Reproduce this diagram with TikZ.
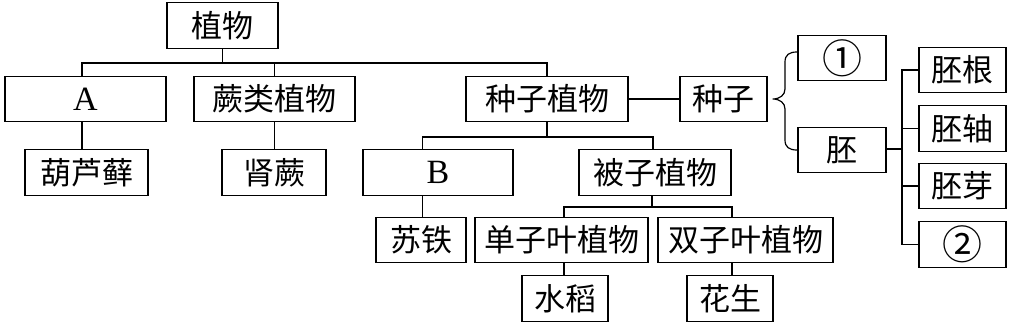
\documentclass[tikz,border=0pt]{standalone}
\usepackage{fontspec}
\newfontfamily\cjk{Noto Sans CJK SC}
\newfontfamily\latinserif{Liberation Serif}
\begin{document}
\begin{tikzpicture}[x=1pt,y=-1pt,
  box/.style={draw, line width=1.3pt, inner sep=0pt, minimum height=45.5pt,
    font=\cjk\fontsize{31}{32}\selectfont},
  lat/.style={font=\latinserif\fontsize{34}{36}\selectfont},
  circ/.style={font=\cjk\fontsize{40}{40}\selectfont},
  conn/.style={line width=1.3pt}]
\useasboundingbox (0,0) rectangle (1016,324);
% nodes
\node[box, minimum width=111pt] (zw) at (222.5,25.5) {植物};
\node[box, lat, minimum width=161pt] (A) at (85.5,99) {A};
\node[box, minimum width=161pt] (jue) at (274.5,99) {蕨类植物};
\node[box, minimum width=162pt] (zz) at (547,99) {种子植物};
\node[box, minimum width=87pt] (seed) at (723.5,99) {种子};
\node[box, circ, minimum width=88pt] (one) at (842,58) {①};
\node[box, minimum width=88pt] (pei) at (842,150) {胚};
\node[box, minimum width=87pt] (pg) at (962.5,70) {胚根};
\node[box, minimum width=87pt] (pz) at (962.5,128.5) {胚轴};
\node[box, minimum width=87pt] (py) at (962.5,186) {胚芽};
\node[box, circ, minimum width=87pt] (two) at (962.5,244.5) {②};
\node[box, minimum width=123pt] (hlx) at (86.5,172.5) {葫芦藓};
\node[box, minimum width=104pt] (sj) at (274,172.5) {肾蕨};
\node[box, lat, minimum width=150pt] (B) at (438,172.5) {B};
\node[box, minimum width=152pt] (bz) at (655,172.5) {被子植物};
\node[box, minimum width=90pt] (st) at (421,240) {苏铁};
\node[box, minimum width=173pt] (dz) at (561.5,240) {单子叶植物};
\node[box, minimum width=175pt] (sz) at (745.5,240) {双子叶植物};
\node[box, minimum width=86pt] (sd) at (565,298.5) {水稻};
\node[box, minimum width=86pt] (hs) at (730,298.5) {花生};
% helper coordinates
\coordinate (bar1) at (0,63);
\coordinate (bar2) at (0,137);
\coordinate (bar3) at (0,207);
\coordinate (v) at (902,0);
% connectors: top level
\draw[conn] (zw.south) -- (zw.south |- bar1);
\draw[conn] ([xshift=-3.5pt]A.north) |- (bar1 -| zz.north) -- (zz.north);
\draw[conn] (jue.north) -- (jue.north |- bar1);
\draw[conn] ([xshift=-3.5pt]A.south) -- ([xshift=-3.5pt]A.south |- hlx.north);
\draw[conn] (jue.south) -- (jue.south |- sj.north);
\draw[conn] (zz.east) -- (seed.west);
% seed plants
\draw[conn] (zz.south) -- (zz.south |- bar2);
\draw[conn] ([xshift=1.5pt]st.north |- B.north) |- ([xshift=-2pt]bz.north |- bar2) -- ([xshift=-2pt]bz.north);
\draw[conn] ([xshift=1.5pt]st.north |- B.south) -- ([xshift=1.5pt]st.north);
\draw[conn] ([xshift=-3pt]bz.south) -- ([xshift=-3pt]bz.south |- bar3);
\draw[conn] ([xshift=-1pt]sd.north |- dz.north) |- ([xshift=2pt]hs.north |- bar3) -- ([xshift=2pt]hs.north |- sz.north);
\draw[conn] ([xshift=-1pt]sd.north |- dz.south) -- ([xshift=-1pt]sd.north);
\draw[conn] ([xshift=2pt]hs.north |- sz.south) -- ([xshift=2pt]hs.north);
% embryo parts
\draw[conn] ([yshift=1pt]pei.east) -- ([yshift=1pt]pei.east -| v);
\draw[conn] (pg.west) -| (v |- two.west) -- (two.west);
\draw[conn] (pz.west) -- (pz.west -| v);
\draw[conn] (py.west) -- (py.west -| v);
% brace
\coordinate (bt) at ([xshift=5pt]seed.east);
\draw[conn, line width=1.2pt] (797,52) .. controls (789,52) and (785,55) .. (785,62)
  -- (785,89) .. controls (785,95) and (780,99) .. (bt)
  .. controls (780,99) and (785,103) .. (785,109)
  -- (785,140) .. controls (785,147) and (789,150) .. (797,150);
\end{tikzpicture}
\end{document}
